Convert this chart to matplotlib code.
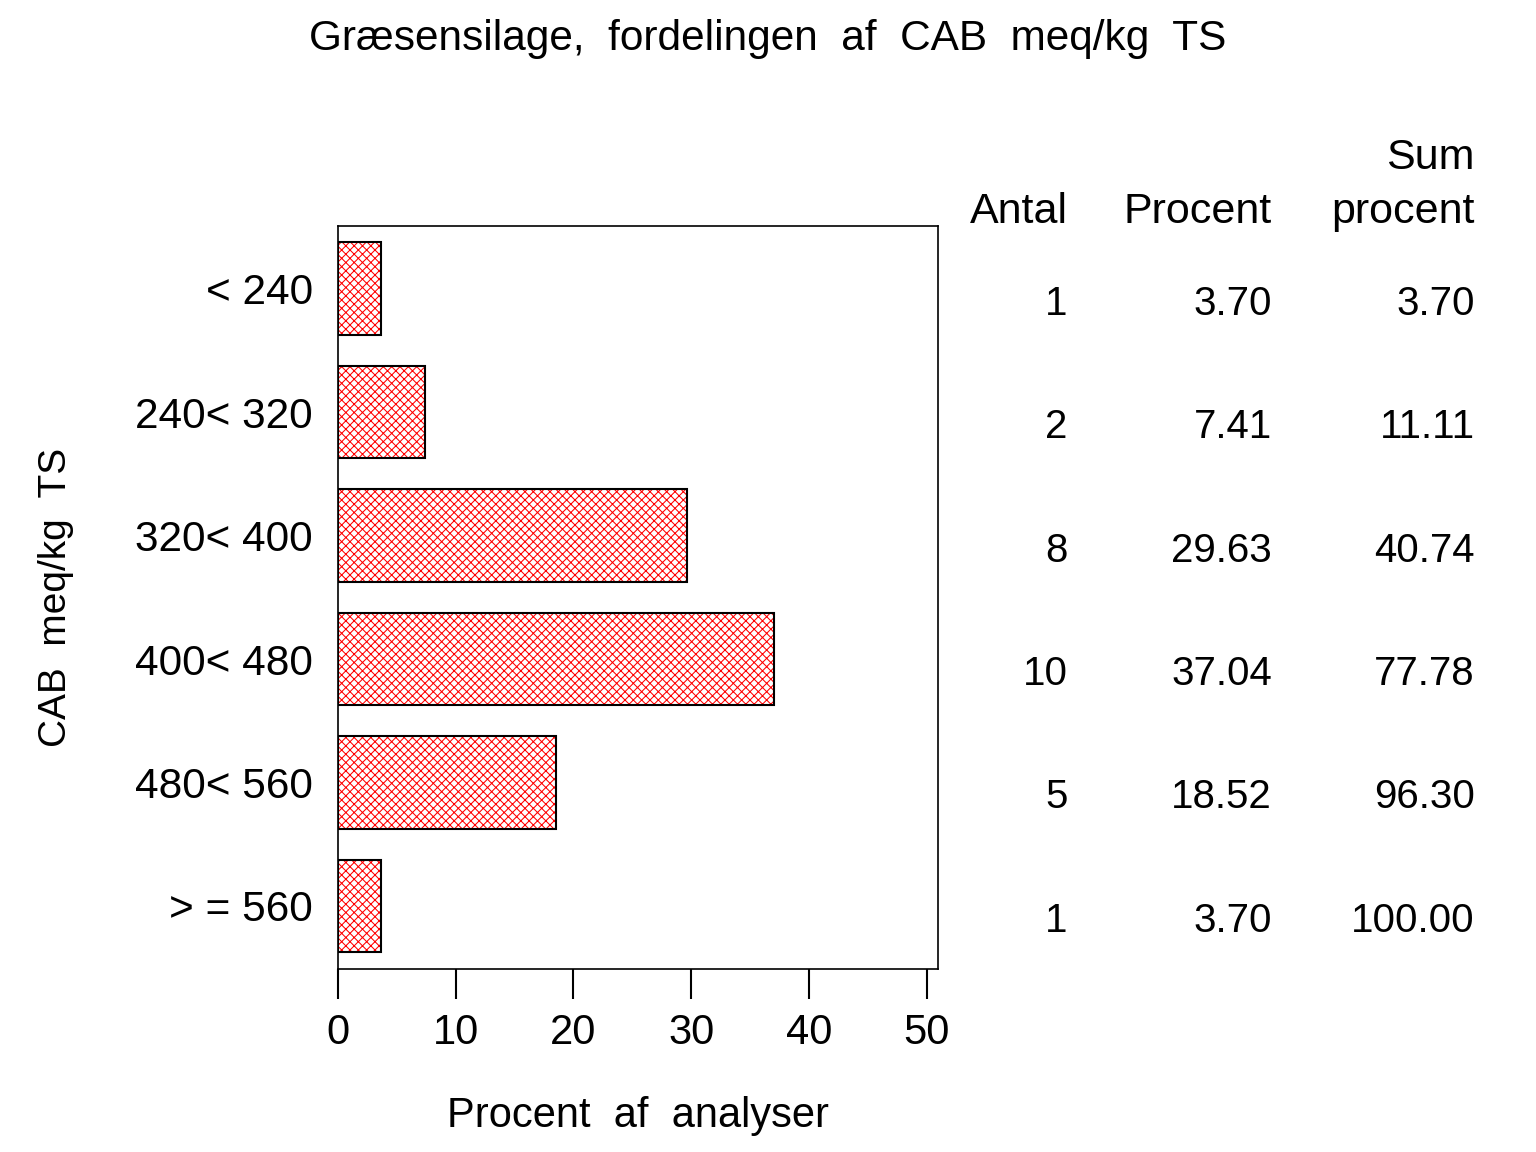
import matplotlib
matplotlib.use('Agg')
import matplotlib.pyplot as plt
import matplotlib.transforms as mtransforms
import numpy as np

plt.rcParams['font.family'] = ['Liberation Sans', 'DejaVu Sans']
plt.rcParams['hatch.linewidth'] = 0.75

klasser = ['< 240', '240< 320', '320< 400', '400< 480', '480< 560', '> = 560']
antal = [1, 2, 8, 10, 5, 1]
procent = [3.70, 7.41, 29.63, 37.04, 18.52, 3.70]
sum_procent = [3.70, 11.11, 40.74, 77.78, 96.30, 100.00]
xticks = [0, 10, 20, 30, 40, 50]

fig = plt.figure(figsize=(15.36, 11.52), dpi=100)
ax = fig.add_axes([0.22, 0.159, 0.391, 0.645])

y = np.arange(len(klasser))
# hatch in red, outline in black
ax.barh(y, procent, height=0.75, color='white', edgecolor='red', hatch='xxxx', linewidth=0)
ax.barh(y, procent, height=0.75, fill=False, edgecolor='black', linewidth=1.5)

ax.set_ylim(len(klasser) - 0.5 + 0.01, -0.5 - 0.01)
ax.set_xlim(0, 51)
ax.set_yticks(y)
ax.set_yticklabels(klasser, fontsize=30.5)
ax.tick_params(axis='y', length=0, pad=18)
ax.set_xticks(xticks)
ax.set_xticklabels([str(t) for t in xticks], fontsize=30)
ax.tick_params(axis='x', direction='out', length=21.5, width=1.5, pad=10)
for s in ax.spines.values():
    s.set_linewidth(1.2)

ax.set_xlabel('Procent  af  analyser', fontsize=30, labelpad=31)
ax.set_ylabel('CAB  meq/kg  TS', fontsize=28, labelpad=44)
fig.text(0.5, 0.966, 'Græsensilage,  fordelingen  af  CAB  meq/kg  TS',
         ha='center', va='center', fontsize=30.5)

# table to the right of the chart, baselines a bit below the bar centres
tr = mtransforms.blended_transform_factory(fig.transFigure, ax.transData)
tr = tr + mtransforms.ScaledTranslation(0, -26 / 100, fig.dpi_scale_trans)
kol_x = [0.695, 0.828, 0.960]
for i in range(len(klasser)):
    fig.text(kol_x[0], y[i], str(antal[i]), transform=tr, ha='right', va='baseline', fontsize=29)
    fig.text(kol_x[1], y[i], '%.2f' % procent[i], transform=tr, ha='right', va='baseline', fontsize=29)
    fig.text(kol_x[2], y[i], '%.2f' % sum_procent[i], transform=tr, ha='right', va='baseline', fontsize=29)

fig.text(kol_x[0], 0.8064, 'Antal', ha='right', va='baseline', fontsize=31)
fig.text(kol_x[1], 0.8064, 'Procent', ha='right', va='baseline', fontsize=31)
fig.text(kol_x[2], 0.8533, 'Sum', ha='right', va='baseline', fontsize=31)
fig.text(kol_x[2], 0.8064, 'procent', ha='right', va='baseline', fontsize=31)

plt.savefig('out.png', dpi=100)
